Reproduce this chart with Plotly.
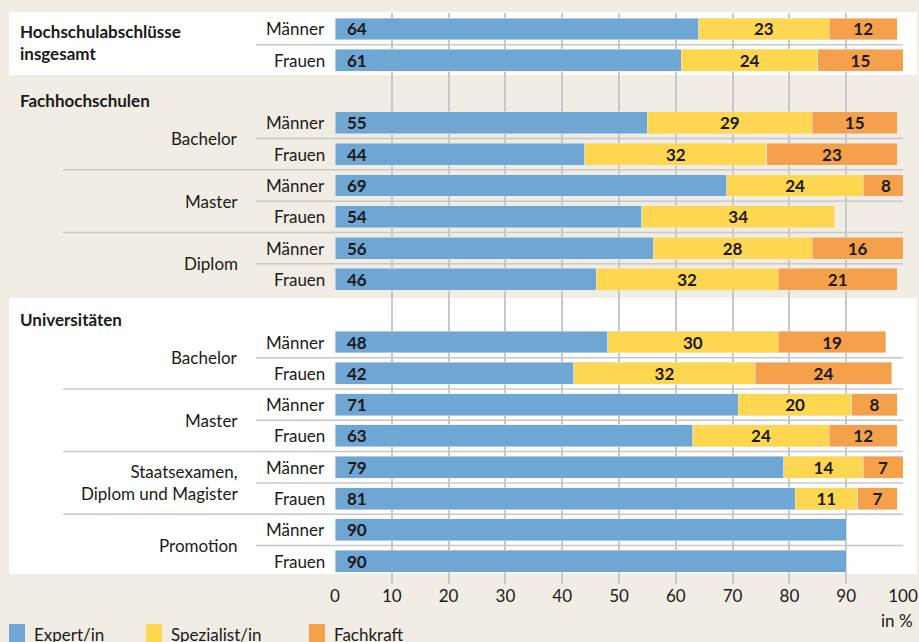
import plotly.graph_objects as go

W, H = 919, 642

# --- data -------------------------------------------------------------
# slot index of each data row (slots 2 and 9 hold the group headings)
row_slot = [0, 1, 3, 4, 5, 6, 7, 8, 10, 11, 12, 13, 14, 15, 16, 17]
geschlecht = ["Männer", "Frauen"] * 8
expert = [64, 61, 55, 44, 69, 54, 56, 46, 48, 42, 71, 63, 79, 81, 90, 90]
spezialist = [23, 24, 29, 32, 24, 34, 28, 32, 30, 32, 20, 24, 14, 11, None, None]
fachkraft = [12, 15, 15, 23, 8, None, 16, 21, 19, 24, 8, 12, 7, 7, None, None]

serien = ["Expert/in", "Spezialist/in", "Fachkraft"]
farben = ["#6FA6D4", "#FED650", "#F5A04B"]

gruppen = ["Hochschulabschlüsse<br>insgesamt", "Fachhochschulen", "Universitäten"]
gruppen_slot = [0.43, 2.28, 9.28]
untergruppen = ["Bachelor", "Master", "Diplom", "Bachelor", "Master",
                "Staatsexamen,<br>Diplom und Magister", "Promotion"]
untergruppen_slot = [3.5, 5.5, 7.5, 10.5, 12.5, 14.5, 16.5]

x_ticks = list(range(0, 101, 10))

BG = "#F1ECE4"
GRID = "#C8C8C8"
TXT = "#1A1A1A"
FONT = "Lato"
FS = 17


def px(x):
    return x / W


def py(y):
    return 1 - y / H


fig = go.Figure()

bar_text = dict(textposition="inside", insidetextanchor="middle", textangle=0,
                constraintext="none",
                textfont=dict(family=FONT, size=FS, color=TXT, weight="bold"))

# stacked bars
fig.add_trace(go.Bar(y=row_slot, x=expert, orientation="h", marker_color=farben[0],
                     name=serien[0], width=0.70, hoverinfo="x"))
fig.add_trace(go.Bar(y=row_slot, x=spezialist, orientation="h", marker_color=farben[1],
                     name=serien[1], width=0.70, hoverinfo="x",
                     text=[str(v) if v else "" for v in spezialist], **bar_text))
fig.add_trace(go.Bar(y=row_slot, x=fachkraft, orientation="h", marker_color=farben[2],
                     name=serien[2], width=0.70, hoverinfo="x",
                     text=[str(v) if v else "" for v in fachkraft], **bar_text))

shapes = []
# white panels behind first and last group
for y0, y1 in [(12, 75), (298, 574)]:
    shapes.append(dict(type="rect", xref="paper", yref="paper", x0=px(9), x1=px(917),
                       y0=py(y1), y1=py(y0), fillcolor="white", line_width=0, layer="below"))

# separator lines between rows
for s in [0.5, 3.5, 5.5, 7.5, 10.5, 12.5, 14.5, 16.5]:
    shapes.append(dict(type="line", xref="paper", yref="y", x0=px(256), x1=px(903),
                       y0=s, y1=s, line=dict(color=GRID, width=1.5), layer="below"))
for s in [4.5, 6.5, 11.5, 13.5, 15.5]:
    shapes.append(dict(type="line", xref="paper", yref="y", x0=px(63), x1=px(903),
                       y0=s, y1=s, line=dict(color=GRID, width=1.5), layer="below"))

annotations = []
# expert labels at the bar start
for s, v in zip(row_slot, expert):
    annotations.append(dict(x=0, y=s, xref="x", yref="y", text=f"<b>{v}</b>", showarrow=False,
                            xanchor="left", yanchor="middle", xshift=10,
                            font=dict(family=FONT, size=FS, color=TXT)))
# Männer / Frauen
for s, g in zip(row_slot, geschlecht):
    annotations.append(dict(x=px(327), y=s, xref="paper", yref="y", text=g, showarrow=False,
                            xanchor="right", yanchor="middle",
                            font=dict(family=FONT, size=FS, color=TXT)))
for t, s in zip(gruppen, gruppen_slot):
    annotations.append(dict(x=px(18), y=s, xref="paper", yref="y", text=f"<b>{t}</b>",
                            showarrow=False, xanchor="left", yanchor="middle", align="left",
                            font=dict(family=FONT, size=FS, color=TXT)))
for t, s in zip(untergruppen, untergruppen_slot):
    annotations.append(dict(x=px(240), y=s, xref="paper", yref="y", text=t,
                            showarrow=False, xanchor="right", yanchor="middle", align="right",
                            font=dict(family=FONT, size=FS, color=TXT)))

annotations.append(dict(x=px(915), y=py(620), xref="paper", yref="paper", text="in %",
                        showarrow=False, xanchor="right", yanchor="middle",
                        font=dict(family=FONT, size=FS, color=TXT)))

# legend drawn by hand
for name, col, x0 in zip(serien, farben, [9, 146, 309]):
    shapes.append(dict(type="rect", xref="paper", yref="paper", x0=px(x0), x1=px(x0 + 16),
                       y0=py(643), y1=py(624), fillcolor=col, line_width=0))
    annotations.append(dict(x=px(x0 + 23), y=py(634), xref="paper", yref="paper", text=name,
                            showarrow=False, xanchor="left", yanchor="middle",
                            font=dict(family=FONT, size=FS, color=TXT)))

fig.update_layout(
    barmode="stack",
    width=W, height=H,
    autosize=False,
    margin=dict(l=0, r=0, t=0, b=0, autoexpand=False),
    paper_bgcolor=BG,
    plot_bgcolor="rgba(0,0,0,0)",
    showlegend=False,
    shapes=shapes,
    annotations=annotations,
    xaxis=dict(domain=[px(335), px(903)], range=[0, 100], tickvals=x_ticks,
               showgrid=True, gridcolor=GRID, gridwidth=1.5, zeroline=False,
               ticks="", tickfont=dict(family=FONT, size=FS, color=TXT), fixedrange=True),
    yaxis=dict(domain=[py(584), py(13)], range=[17.73, -0.511], showgrid=False,
               zeroline=False, showticklabels=False, fixedrange=True),
)

fig.write_html("out.html", config={"displayModeBar": False, "responsive": False},
               post_script="document.body.style.margin='0';document.body.style.overflow='hidden';")
